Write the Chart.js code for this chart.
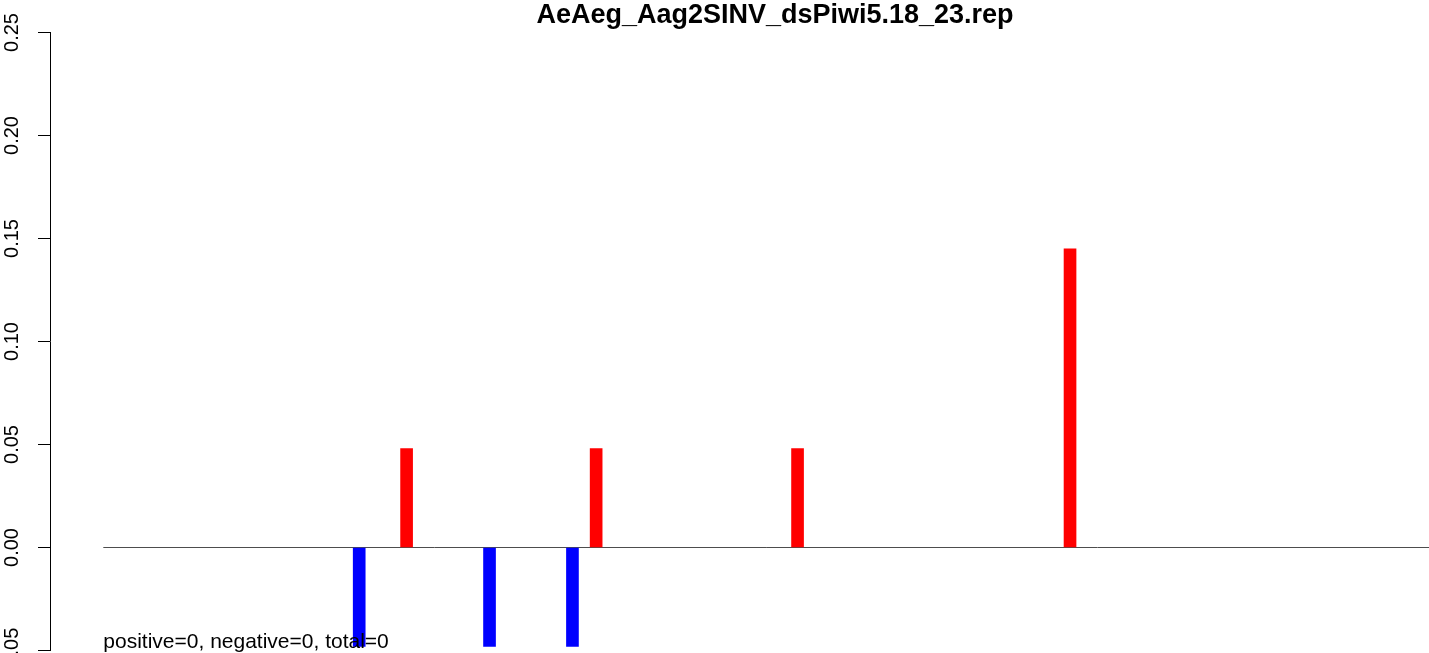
<!DOCTYPE html>
<html>
<head>
<meta charset="utf-8">
<script src="https://cdn.jsdelivr.net/npm/chart.js@4/dist/chart.umd.min.js"></script>
<style>
  body { margin: 0; background: #fff; }
  #wrap { width: 1429px; height: 653px; position: relative; }
</style>
</head>
<body>
<div id="wrap"><canvas id="myChart"></canvas></div>
<script>
// chart data
const chartTitle = "AeAeg_Aag2SINV_dsPiwi5.18_23.rep";
const footNote = "positive=0, negative=0, total=0";

// red bars (positive) and blue bars (negative)
const posX = [26, 42, 59, 82];
const posY = [0.048, 0.048, 0.048, 0.145];
const negX = [22, 33, 40];
const negY = [-0.048, -0.048, -0.048];

// zero line ends and x range
const lineX = [0.4, 112.3];
const xRange = [-4.1, 112.3];

// y axis ticks
const yTicks = [-0.05, 0.00, 0.05, 0.10, 0.15, 0.20, 0.25];

const fontFam = "'Liberation Sans', Arial, Helvetica, sans-serif";

function pts(xs, ys) {
    return xs.map((x, i) => ({ x: x, y: ys[i] }));
}

// title + footnote
const textPlugin = {
    id: 'textPlugin',
    afterDatasetsDraw(chart) {
        const ctx = chart.ctx;
        const xs = chart.scales.x;
        const ys = chart.scales.y;
        ctx.save();
        ctx.fillStyle = '#000';
        ctx.font = "bold 27px " + fontFam;
        ctx.textAlign = 'center';
        ctx.textBaseline = 'alphabetic';
        ctx.fillText(chartTitle, 775, 23);
        ctx.font = "21px " + fontFam;
        ctx.textAlign = 'left';
        ctx.fillText(footNote, xs.getPixelForValue(lineX[0]), ys.getPixelForValue(yTicks[0]) - 3);
        ctx.restore();
    }
};

const ctx = document.getElementById('myChart').getContext('2d');
const myChart = new Chart(ctx, {
    type: 'bar',
    data: {
        datasets: [
            {
                type: 'line',
                data: pts(lineX, [0, 0]),
                borderColor: '#4d4d4d',
                borderWidth: 1,
                pointRadius: 0,
                order: 2
            },
            {
                data: pts(posX, posY),
                backgroundColor: '#ff0000',
                barThickness: 12,
                grouped: false,
                order: 1
            },
            {
                data: pts(negX, negY),
                backgroundColor: '#0000ff',
                barThickness: 12,
                grouped: false,
                order: 1
            }
        ]
    },
    options: {
        responsive: true,
        maintainAspectRatio: false,
        animation: false,
        layout: { padding: { top: 32.5, bottom: 2.5, left: 0, right: 0 } },
        plugins: {
            legend: { display: false },
            title: { display: false },
            tooltip: { enabled: false }
        },
        scales: {
            x: {
                type: 'linear',
                display: false,
                offset: false,
                min: xRange[0],
                max: xRange[1],
                grid: { offset: false }
            },
            y: {
                min: yTicks[0],
                max: yTicks[yTicks.length - 1],
                afterBuildTicks: (scale) => {
                    scale.ticks = yTicks.map(v => ({ value: v }));
                },
                afterFit: (scale) => {
                    scale.width = 50;
                    scale.paddingTop = 0;
                    scale.paddingBottom = 0;
                },
                border: { display: true, color: '#000', width: 1 },
                grid: {
                    drawOnChartArea: false,
                    drawTicks: true,
                    tickLength: 12,
                    tickColor: '#000',
                    tickWidth: 1
                },
                ticks: {
                    autoSkip: false,
                    minRotation: 90,
                    maxRotation: 90,
                    crossAlign: 'center',
                    padding: 3,
                    color: '#000',
                    font: { family: fontFam, size: 20 },
                    callback: (v) => Number(v).toFixed(2)
                }
            }
        }
    },
    plugins: [textPlugin]
});
</script>
</body>
</html>
